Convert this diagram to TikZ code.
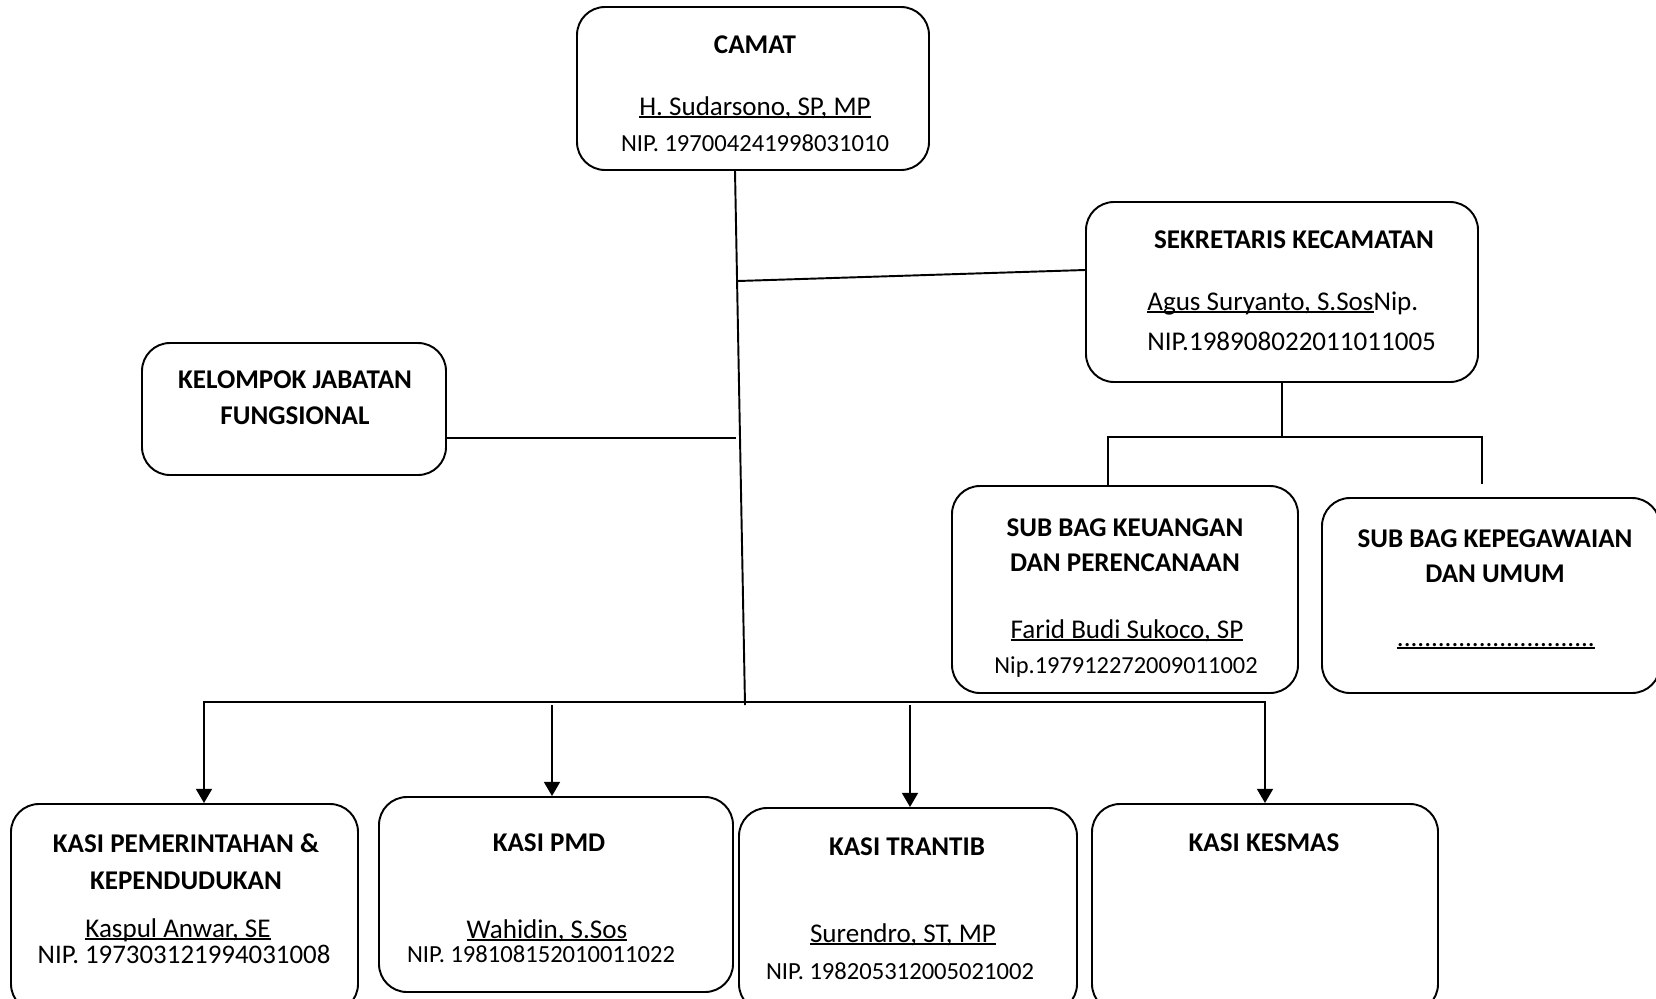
\documentclass[tikz,border=0pt]{standalone}
\usepackage{fontspec}
\setmainfont{Carlito}
\usetikzlibrary{arrows.meta}
\newcommand{\pxl}{0.02cm}
\newcommand{\undl}[1]{\setbox0=\hbox{#1}\rlap{\rule[-0.1em]{\wd0}{0.07em}}\box0}

\tikzset{
	box/.style={draw, rounded corners=0.56cm, line width=1.1pt, inner sep=0pt},
	head/.style={anchor=base, inner sep=0pt, font=\fontsize{15.4}{18}\selectfont\bfseries},
	person/.style={anchor=base, inner sep=0pt, font=\fontsize{15.4}{18}\selectfont},
	nip/.style={anchor=base, inner sep=0pt, font=\fontsize{14}{17}\selectfont},
	link/.style={line width=1.1pt},
	tip/.style={line width=1.1pt, -{Triangle[width=9pt,length=8pt]}},
	tips/.style={line width=1.1pt, {Triangle[width=9pt,length=8pt]}-{Triangle[width=9pt,length=8pt]}}
}

\begin{document}
\begin{tikzpicture}[x=\pxl, y=-\pxl]
	\useasboundingbox (0,0) rectangle (1656,998);
	
	% boxes
	\node[box, minimum width=352*\pxl, minimum height=163*\pxl] (camat) at (753,88.5) {};
	\node[box, minimum width=392*\pxl, minimum height=180*\pxl] (sekcam) at (1282,292) {};
	\node[box, minimum width=304*\pxl, minimum height=132*\pxl] (jabfung) at (294,409) {};
	\node[box, minimum width=346*\pxl, minimum height=207*\pxl] (keuangan) at (1125,589.5) {};
	\node[box, minimum width=338*\pxl, minimum height=195*\pxl] (kepeg) at (1491,595.5) {};
	\node[box, minimum width=347*\pxl, minimum height=208*\pxl] (pem) at (184.5,908) {};
	\node[box, minimum width=354*\pxl, minimum height=195*\pxl] (pmd) at (556,894.5) {};
	\node[box, minimum width=338*\pxl, minimum height=204*\pxl] (trantib) at (908,910) {};
	\node[box, minimum width=346*\pxl, minimum height=208*\pxl] (kesmas) at (1265,908) {};
	
	% texts
	\node[head] (camat-h) at (755,53) {CAMAT};
	\node[person] (camat-n) at (755,115) {\undl{H. Sudarsono, SP, MP}};
	\node[nip] (camat-p) at (755,151) {NIP. 197004241998031010};
	
	\node[head] (sekcam-h) at (1294,248) {SEKRETARIS KECAMATAN};
	\node[person, anchor=base west] (sekcam-n) at (1147,310) {\undl{Agus Suryanto, S.Sos}Nip.};
	\node[person, anchor=base west] (sekcam-p) at (1147,350) {NIP.198908022011011005};
	
	\node[head] (jabfung-h1) at (295,388) {KELOMPOK JABATAN};
	\node[head] (jabfung-h2) at (295,424) {FUNGSIONAL};
	
	\node[head] (keuangan-h1) at (1125,536) {SUB BAG KEUANGAN};
	\node[head] (keuangan-h2) at (1125,571) {DAN PERENCANAAN};
	\node[person] (keuangan-n) at (1127,638) {\undl{Farid Budi Sukoco, SP}};
	\node[nip, font=\fontsize{13.9}{16}\selectfont] (keuangan-p) at (1126,673) {Nip.197912272009011002};
	
	\node[head] (kepeg-h1) at (1495,547) {SUB BAG KEPEGAWAIAN};
	\node[head] (kepeg-h2) at (1495,582) {DAN UMUM};
	\node[person] (kepeg-n) at (1496,646) {\undl{.............................}};
	
	\node[head] (pem-h1) at (186,852) {KASI PEMERINTAHAN \&};
	\node[head] (pem-h2) at (186,889) {KEPENDUDUKAN};
	\node[person] (pem-n) at (178,937) {\undl{Kaspul Anwar, SE}};
	\node[nip, font=\fontsize{15.3}{18}\selectfont] (pem-p) at (184,963) {NIP. 197303121994031008};
	
	\node[head] (pmd-h) at (549,851) {KASI PMD};
	\node[person] (pmd-n) at (547,938) {\undl{Wahidin, S.Sos}};
	\node[nip] (pmd-p) at (541,962) {NIP. 198108152010011022};
	
	\node[head] (trantib-h) at (907,855) {KASI TRANTIB};
	\node[person] (trantib-n) at (903,942) {\undl{Surendro, ST, MP}};
	\node[nip] (trantib-p) at (900,979) {NIP. 198205312005021002};
	
	\node[head] (kesmas-h) at (1264,851) {KASI KESMAS};
	
	% connectors
	\coordinate (stem) at (745,705);
	\coordinate (s1) at (738,281);
	\coordinate (j1) at (736,438);
	\draw[link] (camat.south -| 735,0) -- (stem);
	\draw[link] (s1) -- (sekcam.west |- 0,270);
	\draw[link] (jabfung.east |- j1) -- (j1);
	
	\coordinate (sl) at (1108,437);
	\coordinate (sr) at (1482,437);
	\coordinate (srend) at (1482,484);
	\draw[link] (sekcam.south) -- (sekcam.south |- sl);
	\draw[link] (keuangan.north -| sl) -- (sl) -- (sr) -- (srend);
	
	\coordinate (bl) at (204,702);
	\coordinate (br) at (1265,702);
	\coordinate (a2) at (552,705);
	\coordinate (a3) at (910,705);
	\draw[tips] (pem.north -| bl) -- (bl) -- (br) -- (kesmas.north -| br);
	\draw[tip] (a2) -- (pmd.north -| a2);
	\draw[tip] (a3) -- (trantib.north -| a3);
\end{tikzpicture}
\end{document}
